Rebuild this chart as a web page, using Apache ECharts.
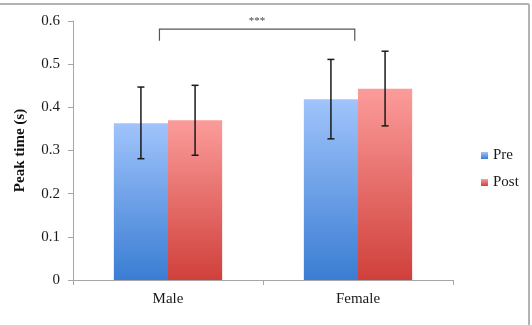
<!DOCTYPE html>
<html>
<head>
<meta charset="utf-8">
<script src="https://cdn.jsdelivr.net/npm/echarts@6/dist/echarts.min.js"></script>
<style>
    html, body {margin: 0; padding: 0; background: #fff;}
    #chart {width: 532px; height: 325px;}
</style>
</head>
<body>
<div id="chart"></div>
<script>
// 数据
var categories = ['Male', 'Female'];
var preMeans = [0.363, 0.419];
var postMeans = [0.370, 0.443];
var preLow = [0.281, 0.327];
var preHigh = [0.447, 0.511];
var postLow = [0.289, 0.357];
var postHigh = [0.451, 0.530];
// significance bracket: category index + shift (in category widths), top / foot values
var bracketCats = [0, 1];
var bracketShift = [-0.045, -0.017];
var bracketY = [0.581, 0.554];
var sigLabel = '***';

var font = 'Liberation Serif';
var gap = 0.43;

function grad(top, bottom) {
    return new echarts.graphic.LinearGradient(0, 0, 0, 1, [
        {offset: 0, color: top},
        {offset: 1, color: bottom}
    ]);
}

var chart = echarts.init(document.getElementById('chart'));

function errorSeries(name, low, high, side) {
    var data = categories.map(function (c, i) {
        return [i, low[i], high[i]];
    });
    return {
        name: name + '-err',
        type: 'custom',
        silent: true,
        z: 10,
        data: data,
        encode: {x: 0, y: [1, 2]},
        renderItem: function (params, api) {
            var band = api.size([1, 0])[0];
            var bw = band * (1 - gap) / 2;
            var lo = api.coord([api.value(0), api.value(1)]);
            var hi = api.coord([api.value(0), api.value(2)]);
            var x = lo[0] + side * bw / 2;
            var cap = 3.5;
            var style = {stroke: '#1a1a1a', lineWidth: 1.5};
            return {
                type: 'group',
                children: [
                    {type: 'line', shape: {x1: x, y1: lo[1], x2: x, y2: hi[1]}, style: style},
                    {type: 'line', shape: {x1: x - cap, y1: lo[1], x2: x + cap, y2: lo[1]}, style: style},
                    {type: 'line', shape: {x1: x - cap, y1: hi[1], x2: x + cap, y2: hi[1]}, style: style}
                ]
            };
        }
    };
}

var option = {
    animation: false,
    backgroundColor: '#fff',
    textStyle: {fontFamily: font},
    grid: {left: 73, right: 79, top: 21, bottom: 45},
    legend: {
        orient: 'vertical',
        left: 476,
        top: 143,
        itemWidth: 7,
        itemHeight: 7,
        itemGap: 12,
        icon: 'rect',
        data: ['Pre', 'Post'],
        textStyle: {fontFamily: font, fontSize: 15, color: '#1a1a1a'}
    },
    xAxis: {
        type: 'category',
        data: categories,
        axisLine: {lineStyle: {color: '#a6a6a6', width: 1}},
        axisTick: {show: true, length: 5, lineStyle: {color: '#a6a6a6'}},
        axisLabel: {fontFamily: font, fontSize: 15, color: '#1a1a1a', margin: 12}
    },
    yAxis: {
        type: 'value',
        min: 0,
        max: 0.6,
        interval: 0.1,
        name: 'Peak time (s)',
        nameLocation: 'middle',
        nameGap: 45,
        nameTextStyle: {fontFamily: font, fontSize: 15, fontWeight: 'bold', color: '#111'},
        axisLine: {show: true, lineStyle: {color: '#a6a6a6', width: 1}},
        axisTick: {show: true, length: 5, lineStyle: {color: '#a6a6a6'}},
        splitLine: {show: false},
        axisLabel: {
            fontFamily: font, fontSize: 15, color: '#1a1a1a', margin: 13,
            formatter: function (v) { return v === 0 ? '0' : v.toFixed(1); }
        }
    },
    graphic: [
        {type: 'line', shape: {x1: 0, y1: 4, x2: 529, y2: 4}, style: {stroke: '#b3b3b3', lineWidth: 2}},
        {type: 'line', shape: {x1: 529, y1: 4, x2: 529, y2: 325}, style: {stroke: '#b3b3b3', lineWidth: 2}}
    ],
    series: [
        {
            name: 'Pre',
            type: 'bar',
            barGap: '0%',
            barCategoryGap: (gap * 100) + '%',
            data: preMeans,
            itemStyle: {color: grad('#a0c4fb', '#3a7dd3')}
        },
        {
            name: 'Post',
            type: 'bar',
            barGap: '0%',
            barCategoryGap: (gap * 100) + '%',
            data: postMeans,
            itemStyle: {color: grad('#fb9c9a', '#d0403b')}
        },
        errorSeries('Pre', preLow, preHigh, -1),
        errorSeries('Post', postLow, postHigh, 1),
        {
            name: 'bracket',
            type: 'custom',
            silent: true,
            z: 10,
            data: [[bracketCats[0], bracketCats[1], bracketY[0], bracketY[1]]],
            renderItem: function (params, api) {
                var band = api.size([1, 0])[0];
                var a = api.coord([api.value(0), api.value(2)]);
                var b = api.coord([api.value(1), api.value(2)]);
                var foot = api.coord([api.value(0), api.value(3)])[1];
                var x1 = a[0] + bracketShift[0] * band;
                var x2 = b[0] + bracketShift[1] * band;
                var y = a[1];
                var style = {stroke: '#555', lineWidth: 1.2, fill: null};
                return {
                    type: 'group',
                    children: [
                        {type: 'polyline', shape: {points: [[x1, foot], [x1, y], [x2, y], [x2, foot]]}, style: style},
                        {
                            type: 'text',
                            style: {
                                text: sigLabel, x: (x1 + x2) / 2, y: y - 3,
                                align: 'center', verticalAlign: 'bottom',
                                fontFamily: font, fontSize: 11, fill: '#444'
                            }
                        }
                    ]
                };
            }
        }
    ]
};

chart.setOption(option);
</script>
</body>
</html>
